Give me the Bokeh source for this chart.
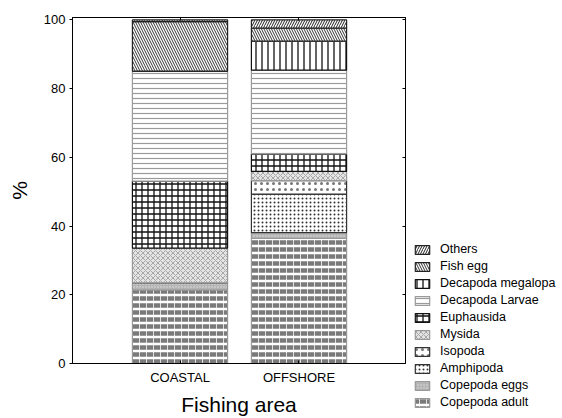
from bokeh.plotting import figure
from bokeh.models import (ColumnDataSource, Range1d, LinearAxis, FixedTicker,
                          Legend, LegendItem)
from bokeh.layouts import row, column
from bokeh.embed import file_html
from bokeh.resources import INLINE

# ---- data ----
areas = ["COASTAL", "OFFSHORE"]
area_pos = [1, 2]
groups = ["Copepoda adult", "Copepoda eggs", "Amphipoda", "Isopoda", "Mysida",
          "Euphausida", "Decapoda Larvae", "Decapoda megalopa", "Fish egg", "Others"]
coastal = [21.4, 2.1, 0.0, 0.0, 10.1, 19.5, 32.0, 0.0, 14.4, 0.5]
offshore = [36.4, 1.7, 11.2, 3.9, 2.7, 5.1, 24.4, 8.4, 3.8, 2.4]
y_ticks = [0, 20, 40, 60, 80, 100]

# ---- styles (per group) ----
styles = {
    "Copepoda adult":   dict(fill_color="#ffffff", hatch_pattern='"', hatch_color="#7a7a7a", hatch_scale=7, hatch_weight=4.5, line_color="#999999"),
    "Copepoda eggs":    dict(fill_color="#b4b4b4", hatch_pattern=".", hatch_color="#e0e0e0", hatch_scale=3, hatch_weight=1, line_color="#999999"),
    "Amphipoda":        dict(fill_color="#ffffff", hatch_pattern=".", hatch_color="#333333", hatch_scale=4, hatch_weight=0.9, line_color="#333333"),
    "Isopoda":          dict(fill_color="#ffffff", hatch_pattern=".", hatch_color="#777777", hatch_scale=6, hatch_weight=0.8, line_color="#333333"),
    "Mysida":           dict(fill_color="#e4e4e4", hatch_pattern="x", hatch_color="#a8a8a8", hatch_scale=5, hatch_weight=1, line_color="#999999"),
    "Euphausida":       dict(fill_color="#ffffff", hatch_pattern="+", hatch_color="#111111", hatch_scale=6, hatch_weight=1.3, line_color="#111111"),
    "Decapoda Larvae":  dict(fill_color="#ffffff", hatch_pattern="-", hatch_color="#9a9a9a", hatch_scale=5, hatch_weight=1.2, line_color="#9a9a9a"),
    "Decapoda megalopa": dict(fill_color="#ffffff", hatch_pattern="|", hatch_color="#111111", hatch_scale=6, hatch_weight=1.3, line_color="#111111"),
    "Fish egg":         dict(fill_color="#ffffff", hatch_pattern="\\", hatch_color="#333333", hatch_scale=5, hatch_weight=1, line_color="#222222"),
    "Others":           dict(fill_color="#ffffff", hatch_pattern="/", hatch_color="#222222", hatch_scale=5, hatch_weight=1, line_color="#222222"),
}

FONT = "Liberation Sans"

p = figure(width=410, height=418, output_backend="svg", toolbar_location=None,
           x_range=Range1d(0.0966, 2.895), y_range=Range1d(0, 100.7),
           min_border_left=72, min_border_right=5, min_border_top=17, min_border_bottom=55)
p.xgrid.visible = False
p.ygrid.visible = False
p.outline_line_color = "#000000"
p.outline_line_width = 1
p.background_fill_color = "#ffffff"

# ---- legend panel (separate figure to the right of the plot) ----
lp = figure(width=152, height=418, output_backend="svg", toolbar_location=None,
            x_range=Range1d(100, 101), y_range=Range1d(100, 101),
            x_axis_type=None, y_axis_type=None,
            min_border_left=0, min_border_right=0, min_border_top=0, min_border_bottom=0)
lp.grid.visible = False
lp.outline_line_color = None

renderers = {}
lp_renderers = {}
bottoms = [0.0, 0.0]
for i, g in enumerate(groups):
    vals = [coastal[i], offshore[i]]
    tops = [b + v for b, v in zip(bottoms, vals)]
    src = ColumnDataSource(dict(x=area_pos, bottom=list(bottoms), top=tops))
    renderers[g] = p.vbar(x="x", bottom="bottom", top="top", width=0.8, source=src,
                          line_width=1.2, **styles[g])
    # same data in the legend panel (its ranges keep the bars out of view)
    lp_renderers[g] = lp.vbar(x="x", bottom="bottom", top="top", width=0.8, source=src,
                              line_width=1.2, **styles[g])
    bottoms = tops

# axes
xa = p.xaxis[0]
xa.ticker = FixedTicker(ticks=area_pos)
xa.major_label_overrides = {pos: name for pos, name in zip(area_pos, areas)}
xa.major_tick_in = 3
xa.major_tick_out = 0
xa.minor_tick_line_color = None
xa.major_label_text_font = FONT
xa.major_label_text_font_size = "13px"
xa.major_label_text_color = "#000000"
xa.major_label_standoff = 6
xa.axis_label = "Fishing area"
xa.axis_label_text_font = FONT
xa.axis_label_text_font_size = "21px"
xa.axis_label_text_font_style = "normal"
xa.axis_label_text_color = "#000000"
xa.axis_label_standoff = 5
xa.axis_line_color = "#000000"

ya = p.yaxis[0]
ya.ticker = FixedTicker(ticks=y_ticks)
ya.major_tick_in = 0
ya.major_tick_out = 3
ya.minor_tick_line_color = None
ya.major_label_text_font = FONT
ya.major_label_text_font_size = "13px"
ya.major_label_text_color = "#000000"
ya.major_label_standoff = 4
ya.axis_label = "%"
ya.axis_label_text_font = FONT
ya.axis_label_text_font_size = "21px"
ya.axis_label_text_font_style = "normal"
ya.axis_label_text_color = "#000000"
ya.axis_label_standoff = 10
ya.axis_line_color = "#000000"

top_axis = LinearAxis(ticker=FixedTicker(ticks=area_pos), major_tick_in=3, major_tick_out=0,
                      major_label_text_font_size="0px", minor_tick_line_color=None,
                      axis_line_color="#000000", major_label_standoff=0)
p.add_layout(top_axis, "above")
right_axis = LinearAxis(ticker=FixedTicker(ticks=y_ticks), major_tick_in=3, major_tick_out=0,
                        major_label_text_font_size="0px", minor_tick_line_color=None,
                        axis_line_color="#000000", major_label_standoff=0)
p.add_layout(right_axis, "right")

items = [LegendItem(label=g, renderers=[lp_renderers[g]]) for g in reversed(groups)]
legend = Legend(items=items, location=(3, 9), orientation="vertical",
                label_text_font=FONT, label_text_font_size="12.5px", label_text_color="#000000",
                glyph_width=18, glyph_height=11, label_height=12, spacing=3,
                label_standoff=9, padding=0, margin=0,
                border_line_alpha=0, background_fill_alpha=0)
lp.add_layout(legend, "center")

layout = row(p, column(lp), spacing=0)
open("out.html", "w").write(file_html(layout, INLINE))
